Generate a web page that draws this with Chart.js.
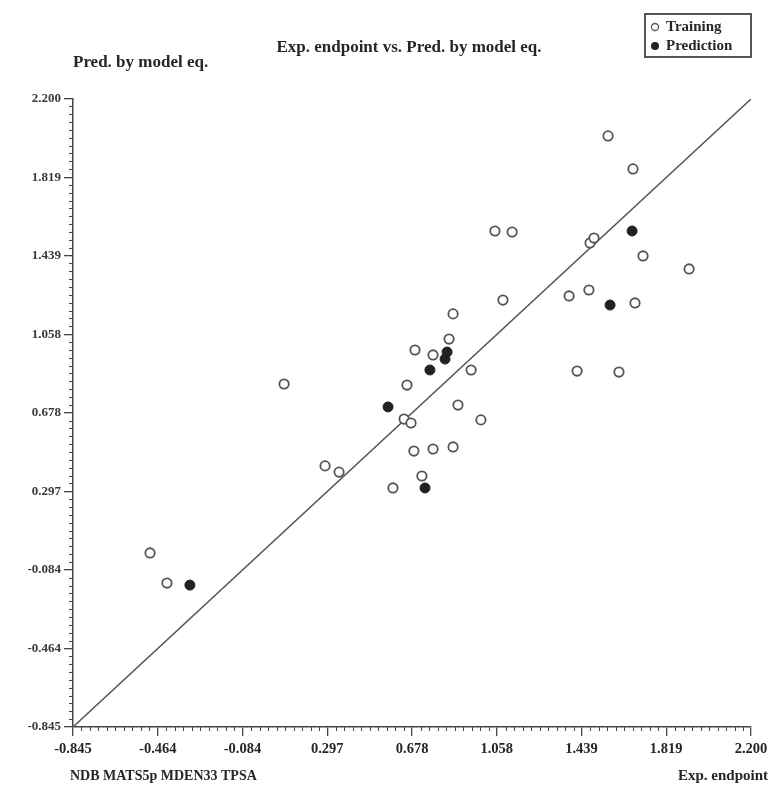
<!DOCTYPE html>
<html>
<head>
<meta charset="utf-8">
<script src="https://cdn.jsdelivr.net/npm/chart.js@4.4.0/dist/chart.umd.min.js"></script>
<style>
  html, body { margin: 0; padding: 0; background: #fff; }
  #wrap { width: 770px; height: 790px; }
</style>
</head>
<body>
<div id="wrap"><canvas id="plot" width="770" height="790"></canvas></div>
<script>
// training set: experimental vs predicted
const trainX = [-0.499, -0.423, 0.103, 0.287, 0.350, 0.592, 0.642, 0.673, 0.655, 0.691,
                0.686, 0.722, 0.772, 0.772, 0.862, 0.844, 0.862, 0.884, 0.943, 0.987,
                1.050, 1.086, 1.127, 1.383, 1.419, 1.472, 1.477, 1.495, 1.558, 1.607,
                1.670, 1.679, 1.715, 1.922];
const trainY = [-0.001, -0.147, 0.818, 0.421, 0.391, 0.314, 0.648, 0.629, 0.813, 0.983,
                0.493, 0.372, 0.503, 0.959, 0.513, 1.036, 1.158, 0.716, 0.886, 0.644,
                1.560, 1.225, 1.555, 1.245, 0.881, 1.274, 1.502, 1.526, 2.021, 0.876,
                1.861, 1.211, 1.439, 1.376];

// external prediction set
const predX = [-0.320, 0.570, 0.736, 0.758, 0.826, 0.835, 1.567, 1.666];
const predY = [-0.157, 0.707, 0.314, 0.886, 0.939, 0.973, 1.201, 1.560];

const tickValues = [-0.845, -0.464, -0.084, 0.297, 0.678, 1.058, 1.439, 1.819, 2.200];
const tickLabels = ['-0.845', '-0.464', '-0.084', '0.297', '0.678', '1.058', '1.439', '1.819', '2.200'];
const axisMin = -0.845;
const axisMax = 2.200;

const ink = '#262626';
const serif = '"Liberation Serif", "Times New Roman", serif';

const toPoints = (xs, ys) => xs.map((x, i) => ({ x: x, y: ys[i] }));

// small ticks between the labelled ones, drawn outside the axes
const minorTicks = {
  id: 'minorTicks',
  afterDraw(chart) {
    const ctx = chart.ctx;
    const xs = chart.scales.x, ys = chart.scales.y;
    const area = chart.chartArea;
    const step = (tickValues[1] - tickValues[0]) / 10;
    ctx.save();
    ctx.strokeStyle = '#444';
    ctx.lineWidth = 1;
    for (let k = 1; k < 80; k++) {
      if (k % 10 === 0) continue;
      const v = axisMin + k * step;
      const px = Math.round(xs.getPixelForValue(v)) + 0.5;
      const py = Math.round(ys.getPixelForValue(v)) + 0.5;
      ctx.beginPath();
      ctx.moveTo(px, area.bottom);
      ctx.lineTo(px, area.bottom + 4);
      ctx.moveTo(area.left, py);
      ctx.lineTo(area.left - 4, py);
      ctx.stroke();
    }
    ctx.restore();
  }
};

// titles, axis captions and the legend box
const captions = {
  id: 'captions',
  afterDraw(chart) {
    const ctx = chart.ctx;
    ctx.save();
    ctx.fillStyle = ink;
    ctx.textBaseline = 'middle';
    ctx.font = 'bold 17px ' + serif;
    ctx.textAlign = 'center';
    ctx.fillText('Exp. endpoint vs. Pred. by model eq.', 409, 48);
    ctx.textAlign = 'left';
    ctx.fillText('Pred. by model eq.', 73, 63);
    ctx.font = 'bold 14px ' + serif;
    ctx.fillText('NDB MATS5p MDEN33 TPSA', 70, 776);
    ctx.textAlign = 'right';
    ctx.font = 'bold 15px ' + serif;
    ctx.fillText('Exp. endpoint', 768, 776);

    // legend
    ctx.strokeStyle = '#555';
    ctx.lineWidth = 2;
    ctx.strokeRect(645, 14, 106, 43);
    ctx.textAlign = 'left';
    ctx.font = 'bold 15px ' + serif;
    ctx.fillText('Training', 666, 27);
    ctx.fillText('Prediction', 666, 46);
    ctx.lineWidth = 1.3;
    ctx.fillStyle = '#fff';
    ctx.beginPath();
    ctx.arc(655, 27, 3.5, 0, Math.PI * 2);
    ctx.fill();
    ctx.stroke();
    ctx.fillStyle = '#222';
    ctx.beginPath();
    ctx.arc(655, 46, 4, 0, Math.PI * 2);
    ctx.fill();
    ctx.restore();
  }
};

const axisCommon = {
  type: 'linear',
  min: axisMin,
  max: axisMax,
  afterBuildTicks: scale => { scale.ticks = tickValues.map(v => ({ value: v })); },
  grid: {
    drawOnChartArea: false,
    drawTicks: true,
    tickLength: 9,
    color: '#444',
    lineWidth: 1.3
  },
  border: { display: true, color: '#444', width: 1.5 }
};

new Chart(document.getElementById('plot'), {
  type: 'scatter',
  data: {
    datasets: [
      {
        label: 'y = x',
        type: 'line',
        data: [{ x: axisMin, y: axisMin }, { x: axisMax, y: axisMax }],
        borderColor: '#555',
        borderWidth: 1.5,
        pointRadius: 0,
        fill: false,
        order: 3
      },
      {
        label: 'Training',
        data: toPoints(trainX, trainY),
        pointStyle: 'circle',
        pointRadius: 4.7,
        backgroundColor: '#fff',
        borderColor: '#555',
        borderWidth: 1.8,
        order: 2
      },
      {
        label: 'Prediction',
        data: toPoints(predX, predY),
        pointStyle: 'circle',
        pointRadius: 5,
        backgroundColor: '#222',
        borderColor: '#222',
        borderWidth: 1,
        order: 1
      }
    ]
  },
  options: {
    responsive: false,
    animation: false,
    layout: { autoPadding: false, padding: { left: 0, top: 99, right: 19, bottom: 0 } },
    plugins: {
      legend: { display: false },
      title: { display: false },
      tooltip: { enabled: false }
    },
    scales: {
      x: Object.assign({}, axisCommon, {
        afterFit: scale => {
          scale.height = 63;
          // let the last label run off the edge instead of shrinking the plot
          scale.paddingLeft = 0;
          scale.paddingRight = 0;
        },
        ticks: {
          autoSkip: false,
          maxRotation: 0,
          padding: 5,
          color: ink,
          font: { family: serif, size: 14.5, weight: 'bold' },
          callback: (v, i) => tickLabels[i]
        }
      }),
      y: Object.assign({}, axisCommon, {
        afterFit: scale => {
          scale.width = 73;
          scale.paddingTop = 0;
          scale.paddingBottom = 0;
        },
        ticks: {
          autoSkip: false,
          padding: 3,
          color: '#3a3a3a',
          font: { family: serif, size: 13, weight: 'bold' },
          callback: (v, i) => tickLabels[i]
        }
      })
    }
  },
  plugins: [minorTicks, captions]
});
</script>
</body>
</html>
